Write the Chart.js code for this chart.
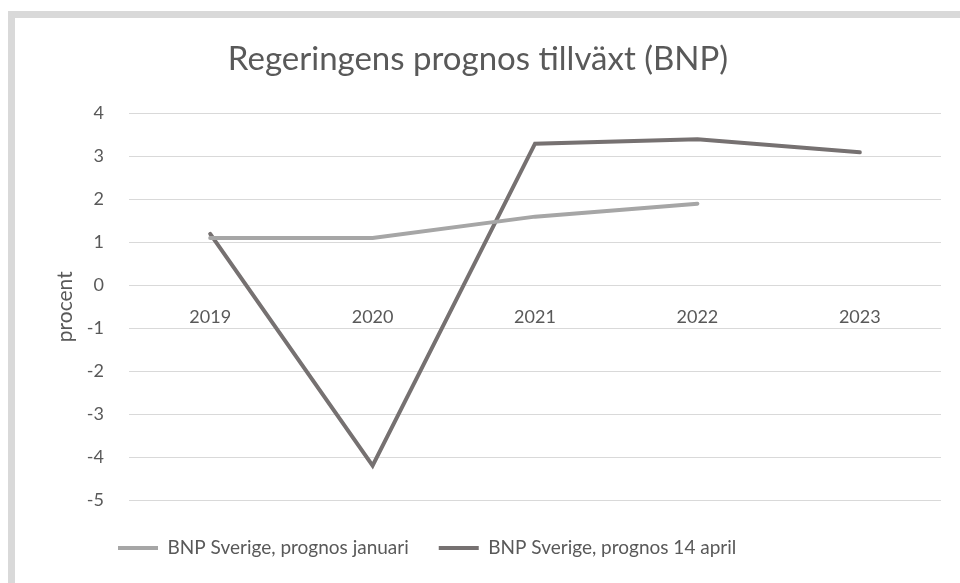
<!DOCTYPE html>
<html>
<head>
<meta charset="utf-8">
<script src="https://cdn.jsdelivr.net/npm/chart.js@4"></script>
<style>
  html,body{margin:0;padding:0;background:#fff;width:960px;height:583px;overflow:hidden;}
  #frame{position:absolute;left:8px;top:11px;width:952px;height:572px;border-left:7px solid #d9d9d9;border-top:7px solid #d9d9d9;box-sizing:border-box;}
  #wrap{position:absolute;left:15px;top:18px;width:945px;height:565px;}
</style>
</head>
<body>
<div id="frame"></div>
<div id="wrap"><canvas id="c"></canvas></div>
<script>
const years = ["2019","2020","2021","2022","2023"];
const prognosJanuari = [1.1, 1.1, 1.6, 1.9, null];
const prognosApril = [1.2, -4.2, 3.3, 3.4, 3.1];
const seriesNames = ["BNP Sverige, prognos januari", "BNP Sverige, prognos 14 april"];

const FONT = "Lato, 'Open Sans', sans-serif";
const TXT = "#595959";
const LEG_PAD = 30;

// Excel puts the legend left of centre, close under the plot
const legendPlace = {
  id: "legendPlace",
  afterLayout(chart){
    const l = chart.legend; if(!l) return;
    const w = l.right - l.left, h = l.bottom - l.top;
    l.left = 103 - LEG_PAD; l.right = l.left + w;
    l.top = 530 - LEG_PAD - 9.5; l.bottom = l.top + h;
  }
};

new Chart(document.getElementById("c"), {
  type: "line",
  data: {
    labels: years,
    datasets: [
      {label: seriesNames[0], data: prognosJanuari, borderColor: "#a6a6a6", backgroundColor: "#a6a6a6", borderWidth: 4, pointRadius: 0, tension: 0, borderCapStyle: "round"},
      {label: seriesNames[1], data: prognosApril, borderColor: "#767171", backgroundColor: "#767171", borderWidth: 4, pointRadius: 0, tension: 0, borderCapStyle: "round"}
    ]
  },
  plugins: [legendPlace],
  options: {
    responsive: true, maintainAspectRatio: false, animation: false,
    layout: {padding: {left: 0, right: 19, top: 0, bottom: 24}},
    plugins: {
      title: {display: true, text: "Regeringens prognos tillväxt (BNP)", color: TXT, font: {family: FONT, size: 33, weight: "normal"}, padding: {top: 22, bottom: 34}},
      legend: {
        position: "bottom", align: "start",
        labels: {
          color: TXT, font: {family: FONT, size: 19}, boxWidth: 40, boxHeight: 4, padding: LEG_PAD,
          generateLabels: chart => Chart.defaults.plugins.legend.labels.generateLabels(chart).map(l => ({...l, lineWidth: 0, fillStyle: l.strokeStyle}))
        }
      },
      tooltip: {enabled: false}
    },
    scales: {
      x: {
        position: {y: 0}, offset: true,
        grid: {display: false, drawTicks: false}, border: {display: false},
        ticks: {color: TXT, font: {family: FONT, size: 18}, padding: 21, maxRotation: 0}
      },
      y: {
        min: -5, max: 4,
        grid: {color: "#d9d9d9", lineWidth: 1, drawTicks: false}, border: {display: false},
        ticks: {stepSize: 1, color: TXT, font: {family: FONT, size: 18}, padding: 25},
        title: {display: true, text: "procent", color: TXT, font: {family: FONT, size: 21}, padding: {top: 38, bottom: 0}},
        afterFit: s => { s.width = 114; }
      }
    }
  }
});
</script>
</body>
</html>
